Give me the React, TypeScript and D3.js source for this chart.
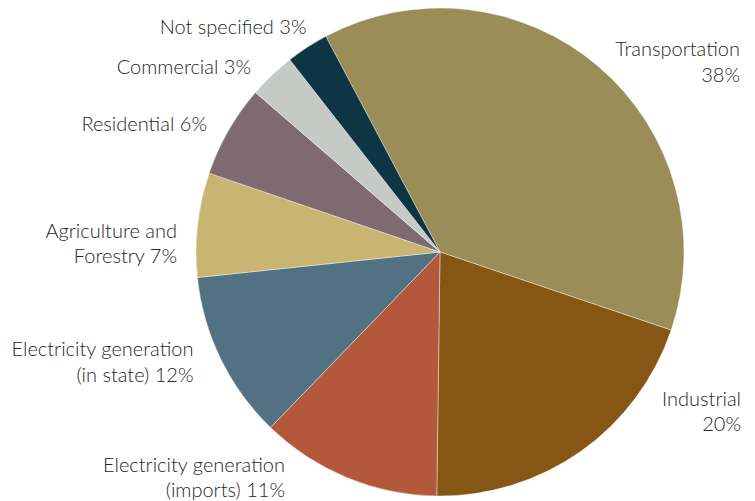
import React, { useEffect, useRef } from "react";
import * as d3 from "d3";

const categories = [
  "Transportation",
  "Industrial",
  "Electricity generation (imports)",
  "Electricity generation (in state)",
  "Agriculture and Forestry",
  "Residential",
  "Commercial",
  "Not specified",
];
const values = [37.9, 20.0, 12.0, 11.1, 6.9, 6.1, 3.1, 2.8];
const labelLines = [
  ["Transportation", "38%"],
  ["Industrial", "20%"],
  ["Electricity generation", "(imports) 11%"],
  ["Electricity generation", "(in state) 12%"],
  ["Agriculture and", "Forestry 7%"],
  ["Residential 6%"],
  ["Commercial 3%"],
  ["Not specified 3%"],
];
const colors = ["#9B8D58", "#855614", "#B4583B", "#527283", "#C8B572", "#7E6A70", "#C5CAC7", "#0D3544"];
// label anchor (right end x, first baseline y)
const labelPos: [number, number][] = [
  [740, 56],
  [741, 405.5],
  [285, 471.5],
  [193.5, 356],
  [177, 237.5],
  [207, 130.5],
  [251, 74],
  [306.5, 34],
];

const W = 755;
const H = 501;
const CX = 440;
const CY = 252;
const R = 244;
const START = (-27.9 * Math.PI) / 180;

export default function App() {
  const ref = useRef<SVGSVGElement>(null);
  useEffect(() => {
    const svg = d3.select(ref.current);
    svg.selectAll("*").remove();
    const pie = d3
      .pie<number>()
      .sort(null)
      .value((d) => d)
      .startAngle(START)
      .endAngle(START + 2 * Math.PI);
    const arcs = pie(values);
    const arc = d3.arc<d3.PieArcDatum<number>>().innerRadius(0).outerRadius(R);
    const g = svg.append("g").attr("transform", `translate(${CX},${CY})`);
    g.selectAll("path")
      .data(arcs)
      .join("path")
      .attr("d", arc)
      .attr("fill", (_, i) => colors[i])
      .attr("stroke", "#ffffff")
      .attr("stroke-width", 0.4);

    const lg = svg.append("g");
    categories.forEach((_, i) => {
      const [x, y] = labelPos[i];
      const t = lg
        .append("text")
        .attr("text-anchor", "end")
        .attr("font-family", "Lato, 'Open Sans', sans-serif")
        .attr("font-weight", 300)
        .attr("font-size", 20)
        .attr("fill", "#262626");
      labelLines[i].forEach((line, j) => {
        t.append("tspan").attr("x", x).attr("y", y + j * 25.5).text(line);
      });
    });
  }, []);
  return (
    <svg
      ref={ref}
      width={W}
      height={H}
      style={{ position: "absolute", left: 0, top: 0, background: "#ffffff" }}
    />
  );
}
